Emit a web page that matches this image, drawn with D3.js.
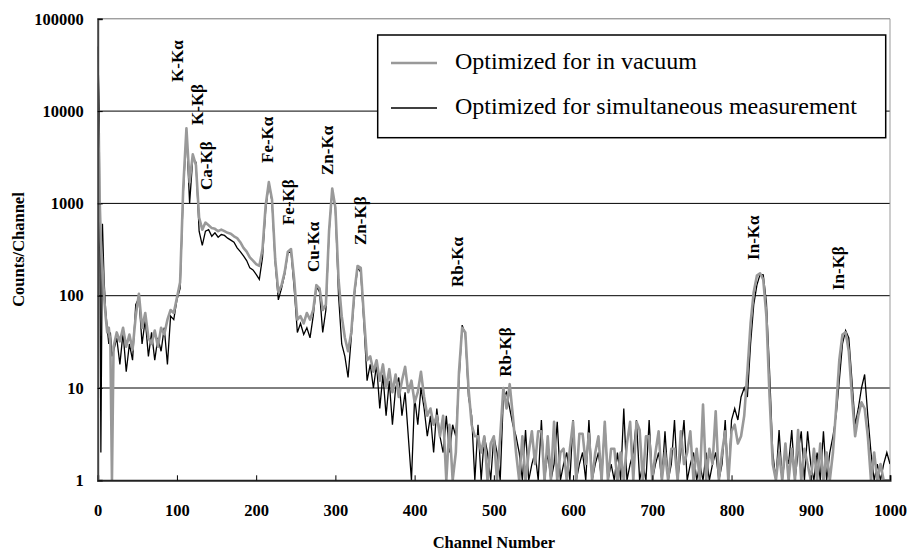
<!DOCTYPE html>
<html>
<head>
<meta charset="utf-8">
<script src="https://cdnjs.cloudflare.com/ajax/libs/d3/7.8.5/d3.min.js"></script>
<style>
    body { margin: 0; background: #fff; }
    svg { display: block; font-family: "Times New Roman", "Liberation Serif", serif; }
</style>
</head>
<body>
<div id="chart"></div>
<script>

// Channel grid (finer at the very start)
const channels = d3.range(0, 20, 2).concat(d3.range(20, 1001, 4));

// Counts, optimized for in vacuum (grey)
const vacuumCounts = [
    // 0 - 18
    20000, 1500, 400, 200, 100, 60, 40, 45, 30, 1,
    // 20 - 108
    28, 40, 32, 45, 28, 38, 26, 60, 105, 45, 65, 35, 30, 42, 28, 45, 38, 55, 70, 65, 95, 140, 1500,
    // 112 - 228
    6500, 1700, 3400, 2600, 700, 520, 620, 580, 540, 530, 500, 520, 500, 480, 470, 440, 420, 380, 330, 300,
    260, 240, 220, 210, 320, 950, 1700, 1100, 250, 110,
    // 232 - 344
    130, 180, 300, 320, 150, 55, 60, 50, 65, 55, 70, 130, 120, 70, 80, 500, 1450, 900, 150, 60,
    35, 25, 40, 110, 210, 200, 60, 20, 22,
    // 348 - 448
    15, 20, 12, 18, 10, 16, 9, 14, 8, 12, 17, 9, 12, 7, 9, 15, 8, 5, 6, 4, 5, 3, 5, 1, 4, 1,
    // 452 - 476
    2, 15, 45, 40, 10, 4, 3,
    // 480 - 508
    3, 2, 3, 1, 2.5, 3, 1, 3,
    // 512 - 528
    10, 6, 11, 5, 2,
    // 532 - 808
    1, 3, 1, 2, 3.4, 1.5, 3.4, 3.4, 1, 3,
    1, 4.3, 1, 2, 2.2, 1, 2.2, 4.3, 1, 3.2,
    3.2, 1.5, 3.2, 1, 2, 3, 1, 4.3, 1, 2.2,
    2.2, 1, 2, 1, 2.5, 4.3, 1, 4.3, 3.5, 1,
    3, 3, 1, 2, 3.4, 1, 2, 1, 2.2, 2.2,
    1, 3.4, 1.5, 2, 3.4, 1, 2.2, 1, 6.6, 1,
    2.2, 1.5, 5.6, 1, 2, 3.4, 1, 3.4, 4, 2.5,
    // 812 - 856
    3, 5, 15, 50, 110, 165, 175, 150, 60, 8, 1.5, 1,
    // 860 - 924
    2, 1, 2.5, 1, 2.2, 1, 3.5, 1, 2.2, 1.5, 1, 2.2, 1, 2.5, 1, 2, 1,
    // 928 - 972
    2, 6, 20, 38, 40, 25, 8, 3, 5, 7, 6, 3,
    // 976 - 1000
    1, 2, 1, 1.5, 1, 1, 1
];

// Counts, optimized for simultaneous measurement (black)
const simultaneousCounts = [
    // 0 - 18
    50000, 10000, 2, 600, 150, 70, 45, 30, 40, 22,
    // 20 - 108
    25, 35, 18, 40, 15, 30, 20, 80, 95, 30, 55, 22, 40, 20, 35, 25, 45, 18, 60, 55, 90, 120, 1300,
    // 112 - 228
    6000, 1000, 3100, 2800, 500, 350, 500, 520, 440, 480, 430, 460, 450, 420, 400, 380, 330, 300, 270, 240,
    200, 190, 170, 150, 260, 850, 1650, 1050, 230, 90,
    // 232 - 344
    120, 170, 290, 300, 120, 40, 50, 38, 45, 35, 60, 125, 110, 40, 70, 480, 1400, 850, 100, 30,
    22, 13, 35, 100, 200, 180, 50, 12, 18,
    // 348 - 448
    10, 18, 6, 14, 5, 12, 4, 10, 13, 5, 9, 3, 1, 8, 4, 10, 6, 3, 5, 2, 6, 3, 2, 5, 2, 4,
    // 452 - 476
    3, 12, 48, 38, 8, 5, 1,
    // 480 - 508
    4, 1, 3, 2, 1, 3, 2, 1,
    // 512 - 528
    8, 9, 6, 4, 3,
    // 532 - 808
    2, 1, 3.5, 1, 1.5, 2, 1, 4.5, 1, 2,
    1, 1.5, 4.3, 1, 1.5, 2, 1, 4.5, 1, 1.5,
    2, 1, 4.5, 1, 1.5, 2, 1, 4.3, 1, 1.5,
    1, 2, 1, 6, 1, 1.5, 2, 4.5, 1, 1.5,
    1, 4.5, 1, 1.5, 2, 1, 3.4, 1, 1.5, 4.5,
    1, 2, 4.5, 1, 1.5, 2, 1, 1.5, 1, 2,
    1, 1.5, 2, 1, 1.5, 4.5, 1, 4.5, 6, 4.5,
    // 812 - 856
    8, 10, 8, 30, 80, 130, 170, 168, 85, 15, 2, 1,
    // 860 - 924
    3.5, 1, 2, 1.5, 3.5, 1, 2, 3.4, 1, 3.4, 1.5, 1, 2, 1, 3.4, 1, 2,
    // 928 - 972
    3, 5, 12, 30, 42, 35, 12, 4, 6, 10, 14, 5,
    // 976 - 1000
    2, 1, 1.5, 1, 1.5, 2, 1.5
];

const seriesNames = ["Optimized for in vacuum", "Optimized for simultaneous measurement"];

// Axis ticks
const xTicks = [0, 100, 200, 300, 400, 500, 600, 700, 800, 900, 1000];
const yTicks = [1, 10, 100, 1000, 10000, 100000];

// Peak annotations: name, channel and count where the label starts
const peakNames = ["K-Kα", "K-Kβ", "Ca-Kβ", "Fe-Kα", "Fe-Kβ", "Cu-Kα", "Zn-Kα", "Zn-Kβ", "Rb-Kα", "Rb-Kβ", "In-Kα", "In-Kβ"];
const peakChannels = [100, 125, 137, 214, 240, 272, 289, 331, 453, 514, 827, 934];
const peakCounts = [20700, 7070, 1400, 2740, 583, 181, 2030, 354, 124, 13.2, 244, 115];

const width = 908;
const height = 551;
const margin = { top: 18.8, right: 18, bottom: 70.7, left: 97.7 };

const svg = d3.select("#chart").append("svg")
    .attr("width", width)
    .attr("height", height);

// Scales
let xScale = d3.scaleLinear()
    .domain([0, 1000])
    .range([margin.left, width - margin.right]);
let yScale = d3.scaleLog()
    .domain([1, 100000])
    .range([height - margin.bottom, margin.top]);

// Gridlines
svg.append("g")
    .selectAll("line")
    .data(yTicks.slice(1))
    .enter().append("line")
        .attr("x1", xScale(0))
        .attr("x2", xScale(1000))
        .attr("y1", d => yScale(d))
        .attr("y2", d => yScale(d))
        .attr("stroke", d => d == 100000 ? "#777" : "#000")
        .attr("stroke-width", 1);

// Right border of the plot area
svg.append("line")
    .attr("x1", xScale(1000)).attr("x2", xScale(1000))
    .attr("y1", yScale(100000)).attr("y2", yScale(1))
    .attr("stroke", "#999")
    .attr("stroke-width", 1);

// Clip the spectra to the plot area
svg.append("clipPath").attr("id", "plot-clip")
    .append("rect")
        .attr("x", xScale(0))
        .attr("y", yScale(100000))
        .attr("width", xScale(1000) - xScale(0))
        .attr("height", yScale(1) - yScale(100000));

let line = d3.line()
    .x(d => xScale(d[0]))
    .y(d => yScale(Math.max(1, d[1])));

let plot = svg.append("g").attr("clip-path", "url(#plot-clip)");

plot.append("path")
    .datum(d3.zip(channels, simultaneousCounts))
    .attr("fill", "none")
    .attr("stroke", "#000")
    .attr("stroke-width", 1.3)
    .attr("stroke-linejoin", "miter")
    .attr("d", line);

plot.append("path")
    .datum(d3.zip(channels, vacuumCounts))
    .attr("fill", "none")
    .attr("stroke", "#999")
    .attr("stroke-width", 2.6)
    .attr("stroke-linejoin", "round")
    .attr("d", line);

// Axes
let xAxis = svg.append("g")
    .attr("transform", `translate(0,${yScale(1)})`)
    .call(d3.axisBottom(xScale).tickValues(xTicks).tickSize(-5).tickPadding(24).tickFormat(d3.format("d")));
xAxis.select(".domain").attr("stroke", "#222").attr("stroke-width", 2);
xAxis.selectAll(".tick line").attr("stroke", "#000");
xAxis.selectAll("text")
    .attr("font-size", 16.5)
    .attr("font-weight", "bold")
    .attr("font-family", "'Times New Roman', 'Liberation Serif', serif")
    .attr("fill", "#000");

let yAxis = svg.append("g")
    .attr("transform", `translate(${xScale(0)},0)`)
    .call(d3.axisLeft(yScale).tickValues(yTicks).tickSize(-5).tickPadding(14).tickFormat(d3.format("d")));
yAxis.select(".domain").attr("stroke", "#444").attr("stroke-width", 2);
yAxis.selectAll(".tick line").attr("stroke", "#000");
yAxis.selectAll("text")
    .attr("font-size", 16.5)
    .attr("font-weight", "bold")
    .attr("font-family", "'Times New Roman', 'Liberation Serif', serif")
    .attr("fill", "#000");

// Axis titles
svg.append("text")
    .attr("x", (xScale(0) + xScale(1000)) / 2)
    .attr("y", 548)
    .attr("text-anchor", "middle")
    .attr("font-size", 16.5)
    .attr("font-weight", "bold")
    .text("Channel Number");

svg.append("text")
    .attr("transform", `translate(24,${(yScale(1) + yScale(100000)) / 2}) rotate(-90)`)
    .attr("text-anchor", "middle")
    .attr("font-size", 16.5)
    .attr("font-weight", "bold")
    .text("Counts/Channel");

// Peak labels
svg.append("g")
    .selectAll("text")
    .data(peakNames)
    .enter().append("text")
        .attr("transform", (d, i) => `translate(${xScale(peakChannels[i]) + 6},${yScale(peakCounts[i])}) rotate(-90)`)
        .attr("font-size", 17)
        .attr("font-weight", "bold")
        .text(d => d);

// Legend
let legend = svg.append("g");
legend.append("rect")
    .attr("x", 377.7)
    .attr("y", 35)
    .attr("width", 508)
    .attr("height", 102.7)
    .attr("fill", "#fff")
    .attr("stroke", "#000")
    .attr("stroke-width", 1.5);

let legendColors = ["#999", "#000"];
let legendWidths = [2.6, 1.5];
seriesNames.forEach((name, i) => {
    let ly = 63 + i * 45;
    legend.append("line")
        .attr("x1", 391).attr("x2", 437)
        .attr("y1", ly).attr("y2", ly)
        .attr("stroke", legendColors[i])
        .attr("stroke-width", legendWidths[i]);
    legend.append("text")
        .attr("x", 455)
        .attr("y", ly + 5.5)
        .attr("font-size", 24)
        .text(name);
});
</script>
</body>
</html>
